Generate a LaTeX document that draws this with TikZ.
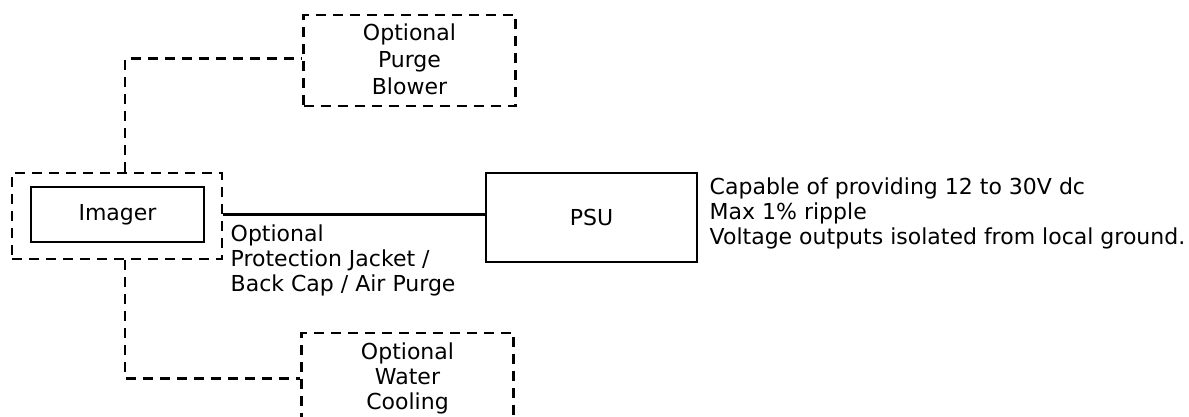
\documentclass[tikz,border=0pt]{standalone}
\usepackage{fontspec}
\setmainfont{DejaVu Sans}
\usetikzlibrary{positioning}

\tikzstyle{sblock} = [draw,rectangle,line width=1.3pt,minimum width=105.5pt,minimum height=44.5pt,inner sep=0pt]
\tikzstyle{iblock} = [draw,rectangle,line width=0.8pt,minimum width=86.5pt,minimum height=27.5pt,inner sep=0pt]
\tikzstyle{dblock} = [draw,rectangle,line width=1.3pt,dash pattern=on 5pt off 3.5pt,minimum width=106pt,minimum height=45.5pt,inner sep=0pt,align=center]
\tikzstyle{dline}  = [line width=1.3pt,dash pattern=on 5pt off 3.5pt]
\tikzstyle{note}   = [align=left,inner sep=0pt]

\begin{document}
\begin{tikzpicture}[x=0.5pt,y=-0.5pt,font=\fontsize{11}{12.5}\selectfont]
			\useasboundingbox (0,0) rectangle (1189,417);
			\node [iblock](imager) at (117.5,214.5){Imager};
			\node [dblock,minimum width=105pt,minimum height=43pt](jacket) at (117,216){};
			\node [sblock](psu) at (591.5,217.5){PSU};
			\node [dblock](purge) at (409.5,60.5){\raisebox{1pt}{\shortstack{Optional\\Purge\\Blower}}};
			\node [dblock](water) at (407.5,378.5){Optional\\Water\\Cooling};
			
			\node [note,anchor=north west](jacket label) at ([xshift=3.5pt,yshift=-5pt]imager.east -| jacket.east){Optional\\Protection Jacket /\\Back Cap / Air Purge};
			\node [note,anchor=west,right=5.5pt of psu,yshift=2pt](psu spec){Capable of providing 12 to 30V dc\\Max 1\% ripple\\Voltage outputs isolated from local ground.};
			
			\draw [line width=1.2pt](imager.east -| jacket.east) -- (imager.east -| psu.west);
			\draw [dline]([xshift=4pt]jacket.north) |- ([yshift=1pt]purge.west);
			\draw [dline]([xshift=4pt]jacket.south) |- (water.west);
			\end{tikzpicture}
\end{document}
